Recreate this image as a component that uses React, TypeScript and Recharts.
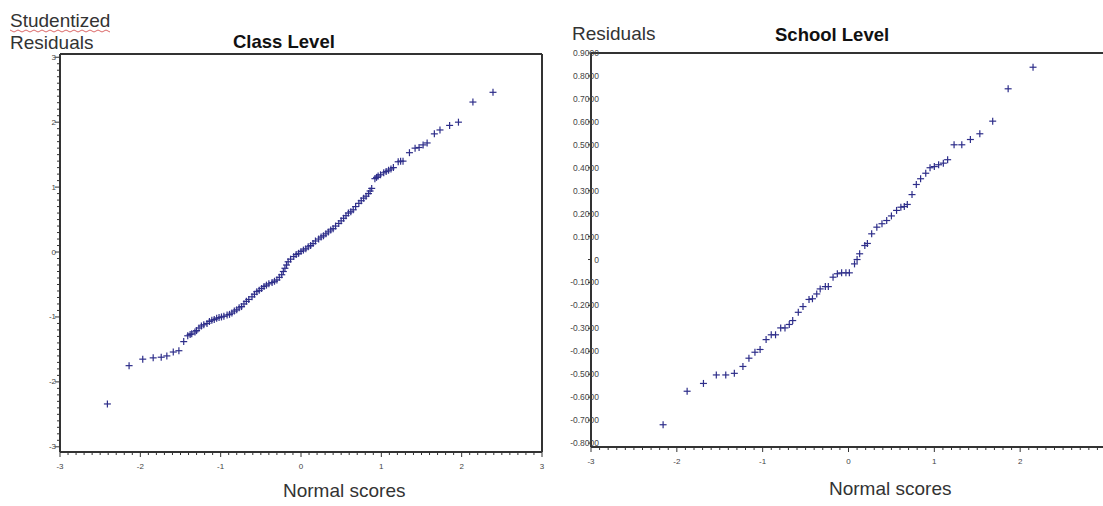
import React from "react";
import { ScatterChart, Scatter, XAxis, YAxis, ReferenceLine } from "recharts";

// class level: normal scores vs studentized residuals
const classScores = [
  -2.41, -2.14, -1.97, -1.84, -1.74, -1.67, -1.59, -1.52, -1.46, -1.41, -1.38, -1.36, -1.32, -1.3, -1.27,
  -1.24, -1.21, -1.17, -1.14, -1.11, -1.08, -1.05, -1.02, -0.99, -0.96, -0.92, -0.89, -0.86, -0.83, -0.8,
  -0.77, -0.74, -0.71, -0.68, -0.65, -0.61, -0.58, -0.55, -0.52, -0.49, -0.46, -0.43, -0.4, -0.36, -0.33,
  -0.3, -0.27, -0.24, -0.22, -0.2, -0.18, -0.16, -0.13, -0.09, -0.06, -0.03, 0.0, 0.03, 0.06, 0.09, 0.12,
  0.15, 0.18, 0.22, 0.25, 0.28, 0.31, 0.34, 0.37, 0.4, 0.43, 0.47, 0.5, 0.53, 0.56, 0.59, 0.62, 0.65, 0.68,
  0.72, 0.75, 0.78, 0.81, 0.84, 0.86, 0.88, 0.92, 0.94, 0.96, 0.99, 1.03, 1.06, 1.09, 1.12, 1.15, 1.21,
  1.24, 1.27, 1.35, 1.42, 1.47, 1.52, 1.57, 1.66, 1.73, 1.85, 1.96, 2.14, 2.39,
];
const classResiduals = [
  -2.34, -1.75, -1.65, -1.63, -1.62, -1.6, -1.54, -1.52, -1.38, -1.29, -1.27, -1.26, -1.23, -1.21, -1.17,
  -1.14, -1.12, -1.1, -1.07, -1.05, -1.04, -1.02, -1.01, -1.0, -0.99, -0.97, -0.96, -0.94, -0.91, -0.89,
  -0.86, -0.84, -0.8, -0.76, -0.73, -0.69, -0.65, -0.61, -0.59, -0.56, -0.53, -0.51, -0.49, -0.47, -0.45,
  -0.43, -0.39, -0.35, -0.3, -0.25, -0.2, -0.15, -0.11, -0.07, -0.04, -0.02, 0.01, 0.03, 0.05, 0.08, 0.1,
  0.13, 0.17, 0.2, 0.23, 0.25, 0.28, 0.31, 0.34, 0.36, 0.4, 0.44, 0.48, 0.52, 0.56, 0.6, 0.62, 0.65, 0.7,
  0.75, 0.79, 0.83, 0.86, 0.9, 0.94, 0.98, 1.13, 1.15, 1.17, 1.19, 1.22, 1.24, 1.26, 1.28, 1.3, 1.39,
  1.4, 1.4, 1.53, 1.6, 1.61, 1.65, 1.68, 1.82, 1.88, 1.95, 2.0, 2.31, 2.46,
];

// school level: normal scores vs residuals
const schoolScores = [
  -2.16, -1.88, -1.69, -1.54, -1.43, -1.33, -1.23, -1.16, -1.09, -1.03, -0.96, -0.9, -0.85, -0.79, -0.74,
  -0.69, -0.65, -0.585, -0.53, -0.46, -0.42, -0.37, -0.33, -0.27, -0.235, -0.18, -0.13, -0.08, -0.03, 0.01,
  0.07, 0.1, 0.13, 0.19, 0.22, 0.27, 0.33, 0.39, 0.445, 0.5, 0.56, 0.61, 0.65, 0.685, 0.74, 0.79, 0.84,
  0.9, 0.95, 1.0, 1.05, 1.105, 1.155, 1.23, 1.32, 1.42, 1.53, 1.68, 1.86, 2.15,
];
const schoolResiduals = [
  -0.72, -0.574, -0.54, -0.503, -0.503, -0.496, -0.466, -0.43, -0.404, -0.392, -0.349, -0.328, -0.328,
  -0.298, -0.298, -0.283, -0.266, -0.23, -0.205, -0.174, -0.171, -0.15, -0.128, -0.118, -0.118, -0.077,
  -0.062, -0.058, -0.058, -0.058, -0.019, 0.0, 0.025, 0.061, 0.07, 0.112, 0.141, 0.156, 0.17, 0.19, 0.214,
  0.228, 0.231, 0.24, 0.283, 0.327, 0.352, 0.376, 0.4, 0.405, 0.413, 0.42, 0.435, 0.5, 0.5, 0.523, 0.548,
  0.603, 0.744, 0.838,
];

const minorTicks = Array.from({ length: 61 }, (_, i) => (i - 30) / 10);
const schoolYTicks = [0.9, 0.8, 0.7, 0.6, 0.5, 0.4, 0.3, 0.2, 0.1, 0, -0.1, -0.2, -0.3, -0.4, -0.5, -0.6, -0.7, -0.8];

const classData = classScores.map((x, i) => ({ x, y: classResiduals[i] }));
const schoolData = schoolScores.map((x, i) => ({ x, y: schoolResiduals[i] }));

const FONT = "'Liberation Sans', Arial, sans-serif";
const AXIS = "#333";
const MARK = "#2e2e8a";
const TICK_TEXT = "#444";

const isMajor = (v: number) => Math.abs(v - Math.round(v)) < 1e-6;

const Cross = (props: any) => {
  const { cx, cy } = props;
  if (cx == null || cy == null) return null;
  return (
    <g stroke={MARK} strokeWidth={1.2}>
      <line x1={cx - 3.5} x2={cx + 3.5} y1={cy} y2={cy} />
      <line x1={cx} x2={cx} y1={cy - 3.5} y2={cy + 3.5} />
    </g>
  );
};

const BottomTick = (props: any) => {
  const { x, y, payload, maxLabel = 3 } = props;
  const v = payload.value;
  const major = isMajor(v);
  return (
    <g>
      <line x1={x} x2={x} y1={y} y2={y + (major ? 5 : 3)} stroke={AXIS} strokeWidth={1} />
      {major && v <= maxLabel && (
        <text x={x} y={y + 14} textAnchor="middle" dominantBaseline="central" fontSize={8} fill={TICK_TEXT} fontFamily={FONT}>
          {Math.round(v)}
        </text>
      )}
    </g>
  );
};

const ClassYTick = (props: any) => {
  const { x, y, payload } = props;
  const v = payload.value;
  const major = isMajor(v);
  return (
    <g>
      <line x1={x} x2={x - (major ? 5 : 3)} y1={y} y2={y} stroke={AXIS} strokeWidth={1} />
      {major && (
        <text x={x - 4} y={y} textAnchor="end" dominantBaseline="central" fontSize={8} fill={TICK_TEXT} fontFamily={FONT}>
          {Math.round(v)}
        </text>
      )}
    </g>
  );
};

const SchoolYTick = (props: any) => {
  const { x, y, payload } = props;
  const v = payload.value;
  return (
    <g>
      <line x1={x} x2={x - 3} y1={y} y2={y} stroke={AXIS} strokeWidth={1} />
      <text x={x + 8} y={y} textAnchor="end" dominantBaseline="central" fontSize={8.5} fill={TICK_TEXT} fontFamily={FONT}>
        {Math.abs(v) < 1e-9 ? "0" : v.toFixed(4)}
      </text>
    </g>
  );
};

export default function App() {
  return (
    <div style={{ position: "absolute", left: 0, top: 0, width: 1103, height: 506, overflow: "hidden", background: "#fff" }}>
      <div style={{ position: "absolute", left: 0, top: 0 }}>
        <ScatterChart width={560} height={506} margin={{ top: 54, right: 18, bottom: 53, left: 59 }}>
          <XAxis
            type="number"
            dataKey="x"
            domain={[-3, 3]}
            ticks={minorTicks}
            interval={0}
            tick={<BottomTick />}
            tickLine={false}
            tickSize={0}
            tickMargin={0}
            height={1}
            axisLine={{ stroke: AXIS, strokeWidth: 2 }}
          />
          <YAxis
            type="number"
            dataKey="y"
            domain={[-3.08, 3.05]}
            ticks={minorTicks}
            interval={0}
            tick={<ClassYTick />}
            tickLine={false}
            tickSize={0}
            tickMargin={0}
            width={1}
            axisLine={{ stroke: AXIS, strokeWidth: 2 }}
          />
          <ReferenceLine y={3.05} stroke={AXIS} strokeWidth={2} />
          <ReferenceLine x={3} stroke={AXIS} strokeWidth={2} />
          <Scatter data={classData} shape={<Cross />} isAnimationActive={false} />
        </ScatterChart>
      </div>
      <div style={{ position: "absolute", left: 560, top: 0 }}>
        <ScatterChart width={560} height={506} margin={{ top: 53, right: 14, bottom: 58, left: 30 }}>
          <XAxis
            type="number"
            dataKey="x"
            domain={[-3, 3]}
            ticks={minorTicks}
            interval={0}
            tick={<BottomTick maxLabel={2} />}
            tickLine={false}
            tickSize={0}
            tickMargin={0}
            height={1}
            axisLine={{ stroke: AXIS, strokeWidth: 2 }}
          />
          <YAxis
            type="number"
            dataKey="y"
            domain={[-0.817, 0.9]}
            ticks={schoolYTicks}
            interval={0}
            tick={<SchoolYTick />}
            tickLine={false}
            tickSize={0}
            tickMargin={0}
            width={1}
            axisLine={{ stroke: AXIS, strokeWidth: 2 }}
          />
          <ReferenceLine y={0.9} stroke={AXIS} strokeWidth={2} />
          <ReferenceLine x={3} stroke={AXIS} strokeWidth={2} />
          <Scatter data={schoolData} shape={<Cross />} isAnimationActive={false} />
        </ScatterChart>
      </div>
      <svg width={1103} height={506} style={{ position: "absolute", left: 0, top: 0, pointerEvents: "none" }} fontFamily={FONT}>
        <text x={10} y={27} fontSize={19} fill="#333">Studentized</text>
        <path
          d={Array.from({ length: 26 }, (_, i) => `${i === 0 ? "M" : "L"}${10 + i * 4},${i % 2 === 0 ? 30 : 32}`).join(" ")}
          stroke="#d04040"
          strokeWidth={0.8}
          fill="none"
        />
        <text x={10} y={49} fontSize={19} fill="#333">Residuals</text>
        <text x={233} y={48} fontSize={18.5} fontWeight="bold" fill="#111">Class Level</text>
        <text x={283} y={497} fontSize={19} fill="#333">Normal scores</text>
        <text x={572} y={40} fontSize={19} fill="#333">Residuals</text>
        <text x={775} y={41} fontSize={18.5} fontWeight="bold" fill="#111">School Level</text>
        <text x={829} y={495} fontSize={19} fill="#333">Normal scores</text>
      </svg>
    </div>
  );
}
